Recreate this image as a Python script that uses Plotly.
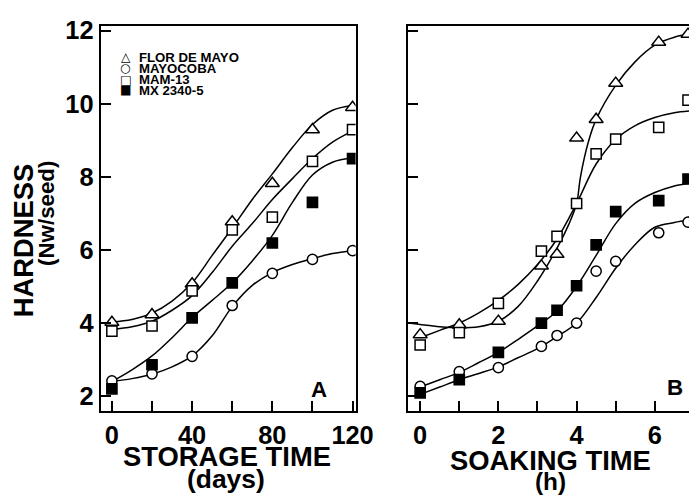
import plotly.graph_objects as go

# ---------------- data ----------------
# Panel A: storage time (days)
storage_days = [0, 20, 40, 60, 80, 100, 120]
a_flor = [4.02, 4.23, 5.07, 6.77, 7.82, 9.29, 9.90]
a_mayo = [2.42, 2.61, 3.09, 4.48, 5.36, 5.74, 5.98]
a_mam = [3.78, 3.92, 4.88, 6.55, 6.90, 8.42, 9.29]
a_mx = [2.20, 2.86, 4.14, 5.10, 6.19, 7.30, 8.50]

# fitted curves, panel A
a_curve_days = [0, 10, 20, 30, 40, 50, 60, 70, 80, 90, 100, 110, 120]
a_flor_fit = [4.03, 4.10, 4.27, 4.60, 5.10, 5.85, 6.60, 7.38, 8.08, 8.80, 9.43, 9.82, 9.95]
a_mayo_fit = [2.40, 2.48, 2.60, 2.80, 3.10, 3.65, 4.45, 5.03, 5.38, 5.60, 5.76, 5.90, 5.98]
a_mam_fit = [3.83, 3.90, 4.05, 4.35, 4.75, 5.38, 6.10, 6.72, 7.38, 7.95, 8.50, 8.95, 9.25]
a_mx_fit = [2.40, 2.72, 3.10, 3.60, 4.15, 4.62, 5.10, 5.70, 6.40, 7.30, 8.05, 8.40, 8.52]

# Panel B: soaking time (h)
soak_h = [0, 1, 2, 3.1, 3.5, 4, 4.5, 5, 6.1, 6.85]
b_flor = [3.68, 3.95, 4.05, 5.56, 5.88, 9.06, 9.57, 10.56, 11.68, 11.90]
b_mayo = [2.27, 2.67, 2.78, 3.36, 3.66, 4.00, 5.42, 5.69, 6.47, 6.76]
b_mam = [3.40, 3.74, 4.54, 5.97, 6.37, 7.27, 8.63, 9.03, 9.35, 10.10]
b_mx = [2.09, 2.45, 3.20, 4.00, 4.35, 5.02, 6.14, 7.05, 7.35, 7.94]

# fitted curves, panel B
b_flor_fit_h = [-0.3, 0, 0.5, 1, 1.5, 2, 2.5, 3, 3.5, 3.8, 4, 4.1, 4.3, 4.5, 5, 5.5, 6, 6.5, 6.9]
b_flor_fit = [4.00, 3.96, 3.90, 3.87, 3.90, 4.05, 4.45, 5.15, 6.05, 6.70, 7.27, 8.00, 8.95, 9.57, 10.50, 11.15, 11.60, 11.82, 11.90]
b_fit_h = [0, 0.5, 1, 1.5, 2, 2.5, 3, 3.5, 4, 4.5, 5, 5.5, 6, 6.5, 6.9]
b_mam_fit = [3.60, 3.80, 4.00, 4.28, 4.62, 5.05, 5.60, 6.30, 7.27, 8.35, 9.02, 9.40, 9.62, 9.75, 9.80]
b_mx_fit = [2.25, 2.45, 2.65, 2.92, 3.20, 3.55, 3.92, 4.33, 5.00, 5.85, 6.72, 7.28, 7.57, 7.75, 7.83]
b_mayo_fit = [2.05, 2.25, 2.45, 2.62, 2.80, 3.05, 3.30, 3.63, 4.00, 4.70, 5.50, 6.15, 6.62, 6.75, 6.82]

series_names = ["FLOR DE MAYO", "MAYOCOBA", "MAM-13", "MX 2340-5"]
legend_glyphs = ["\u25B3", "\u25CB", "\u25A1", "\u25A0"]

y_ticks = [2, 4, 6, 8, 10, 12]
a_xticks = [0, 20, 40, 60, 80, 100, 120]
a_xtext = ["0", "", "40", "", "80", "", "120"]
b_xticks = [0, 1, 2, 3, 4, 5, 6]
b_xtext = ["0", "", "2", "", "4", "", "6"]

# ---------------- figure ----------------
W, H = 708, 502          # page size that lands on the 689x497 picture
SX = 0.973               # horizontal picture / page scale
FONT = "Liberation Sans, Arial, Helvetica, sans-serif"


def px(x):
    # x given in picture pixels
    return x / (W * SX)


def py(y):
    # y given in picture pixels
    return 1 - y / H


def fs(v):
    return round(v / 0.985, 1)


fig = go.Figure()

styles = [
    dict(symbol="triangle-up", size=fs(12), color="white", line=dict(color="black", width=1.5)),
    dict(symbol="circle", size=fs(10), color="white", line=dict(color="black", width=1.5)),
    dict(symbol="square", size=fs(10), color="white", line=dict(color="black", width=1.5)),
    dict(symbol="square", size=fs(10), color="black", line=dict(color="black", width=1.5)),
]

line_style = dict(color="black", width=1.5, shape="spline", smoothing=1.0)

# Panel A curves
for yy in [a_flor_fit, a_mayo_fit, a_mam_fit, a_mx_fit]:
    fig.add_trace(go.Scatter(x=a_curve_days, y=yy, mode="lines", line=line_style,
                             xaxis="x", yaxis="y", showlegend=False, hoverinfo="skip"))
# Panel B curves
fig.add_trace(go.Scatter(x=b_flor_fit_h, y=b_flor_fit, mode="lines", line=line_style,
                         xaxis="x2", yaxis="y2", showlegend=False, hoverinfo="skip"))
for yy in [b_mayo_fit, b_mam_fit, b_mx_fit]:
    fig.add_trace(go.Scatter(x=b_fit_h, y=yy, mode="lines", line=line_style,
                             xaxis="x2", yaxis="y2", showlegend=False, hoverinfo="skip"))

# markers
for name, st, ya in zip(series_names, styles, [a_flor, a_mayo, a_mam, a_mx]):
    fig.add_trace(go.Scatter(x=storage_days, y=ya, mode="markers", marker=st, name=name,
                             xaxis="x", yaxis="y", showlegend=False))
for name, st, yb in zip(series_names, styles, [b_flor, b_mayo, b_mam, b_mx]):
    fig.add_trace(go.Scatter(x=soak_h, y=yb, mode="markers", marker=st, name=name,
                             xaxis="x2", yaxis="y2", showlegend=False))

tickfont = dict(family=FONT, size=fs(25), color="black", weight="bold")
axis_common = dict(showline=True, linecolor="black", linewidth=2, ticks="inside",
                   ticklen=10, tickwidth=2, tickcolor="black", showgrid=False,
                   zeroline=False, tickfont=tickfont)

ydom = [py(409.5), py(16.7)]

fig.update_layout(
    width=W, height=H, autosize=False,
    margin=dict(l=0, r=0, t=0, b=0),
    paper_bgcolor="white", plot_bgcolor="white",
    showlegend=False,
    xaxis=dict(domain=[px(100.5), px(355)], range=[-5.6, 121.5], tickvals=a_xticks,
               ticktext=a_xtext, mirror=True, anchor="y", **axis_common),
    yaxis=dict(domain=ydom, range=[1.585, 12.115], tickvals=y_ticks, mirror=True,
               anchor="x", **axis_common),
    xaxis2=dict(domain=[px(407.5), 1.0], range=[-0.307, 6.90], tickvals=b_xticks,
                ticktext=b_xtext, mirror=True, anchor="y2", **axis_common),
    yaxis2=dict(domain=ydom, range=[1.585, 12.115], tickvals=y_ticks, showticklabels=False,
                anchor="x2", **axis_common),
)

anns = []


def ann(text, x, y, size, angle=0, family=FONT, xanchor="center", weight="bold"):
    anns.append(dict(text=text, x=px(x), y=py(y), xref="paper", yref="paper",
                     showarrow=False, xanchor=xanchor, yanchor="middle", textangle=angle,
                     borderpad=0,
                     font=dict(family=family, size=fs(size), color="black", weight=weight)))


# axis titles
ann("HARDNESS", 23, 235, 27, angle=-90)
ann("(Nw/seed)", 47, 208, 22, angle=-90)
ann("STORAGE TIME", 227, 456, 27)
ann("(days)", 226, 479, 26)
ann("SOAKING TIME", 550, 460, 27)
ann("(h)", 550, 481, 24)
# panel letters
ann("A", 318, 387, 22)
ann("B", 674, 385, 22)

# legend (text labels)
rows = [48, 59.5, 71, 82]
for g, name, yy in zip(legend_glyphs, series_names, rows):
    ann(g, 125.5, yy, 12, family="DejaVu Sans", weight="normal")
    ann(name, 138, yy, 13, xanchor="left")

fig.update_layout(annotations=anns)

fig.write_html(
    "out.html",
    config={"responsive": False, "displayModeBar": False},
    post_script="document.body.style.margin='0';document.body.style.overflow='hidden';",
)
